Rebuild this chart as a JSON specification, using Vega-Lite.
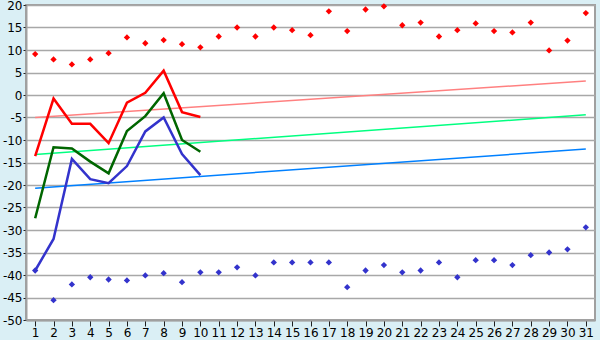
{
  "$schema": "https://vega.github.io/schema/vega-lite/v6.json",
  "width": 569,
  "height": 315,
  "autosize": {"type": "none"},
  "padding": {"left": 26, "top": 5, "right": 5, "bottom": 20},
  "background": "#DAEFF5",
  "config": {
    "view": {"fill": "white", "stroke": "#A0A0A0", "strokeWidth": 2},
    "axis": {"labelFont": "DejaVu Sans", "labelFontSize": 12, "labelColor": "black", "domainColor": "#A0A0A0", "domainWidth": 2, "tickColor": "#202020", "gridColor": "#A8A8A8", "gridWidth": 1.5, "title": null}
  },
  "datasets": {
    "lines": [
      {"day": 1, "s": "red", "v": -13.6}, {"day": 2, "s": "red", "v": -0.8}, {"day": 3, "s": "red", "v": -6.4}, {"day": 4, "s": "red", "v": -6.4}, {"day": 5, "s": "red", "v": -10.7}, {"day": 6, "s": "red", "v": -1.7}, {"day": 7, "s": "red", "v": 0.5}, {"day": 8, "s": "red", "v": 5.4}, {"day": 9, "s": "red", "v": -3.8}, {"day": 10, "s": "red", "v": -4.9},
      {"day": 1, "s": "green", "v": -27.4}, {"day": 2, "s": "green", "v": -11.6}, {"day": 3, "s": "green", "v": -11.9}, {"day": 4, "s": "green", "v": -14.8}, {"day": 5, "s": "green", "v": -17.4}, {"day": 6, "s": "green", "v": -8.0}, {"day": 7, "s": "green", "v": -4.7}, {"day": 8, "s": "green", "v": 0.4}, {"day": 9, "s": "green", "v": -10.0}, {"day": 10, "s": "green", "v": -12.6},
      {"day": 1, "s": "blue", "v": -39.0}, {"day": 2, "s": "blue", "v": -32.0}, {"day": 3, "s": "blue", "v": -14.2}, {"day": 4, "s": "blue", "v": -18.7}, {"day": 5, "s": "blue", "v": -19.6}, {"day": 6, "s": "blue", "v": -15.8}, {"day": 7, "s": "blue", "v": -8.1}, {"day": 8, "s": "blue", "v": -5.0}, {"day": 9, "s": "blue", "v": -13.1}, {"day": 10, "s": "blue", "v": -17.8}
    ],
    "trends": [
      {"day": 1, "s": "tred", "v": -5.0}, {"day": 31, "s": "tred", "v": 3.1},
      {"day": 1, "s": "tgreen", "v": -13.2}, {"day": 31, "s": "tgreen", "v": -4.4},
      {"day": 1, "s": "tblue", "v": -20.7}, {"day": 31, "s": "tblue", "v": -12.0}
    ],
    "points": [
      {"day": 1, "s": "max", "v": 9.1}, {"day": 2, "s": "max", "v": 7.9}, {"day": 3, "s": "max", "v": 6.8}, {"day": 4, "s": "max", "v": 7.9}, {"day": 5, "s": "max", "v": 9.3}, {"day": 6, "s": "max", "v": 12.8}, {"day": 7, "s": "max", "v": 11.5}, {"day": 8, "s": "max", "v": 12.2}, {"day": 9, "s": "max", "v": 11.3}, {"day": 10, "s": "max", "v": 10.6},
      {"day": 11, "s": "max", "v": 13.0}, {"day": 12, "s": "max", "v": 15.0}, {"day": 13, "s": "max", "v": 13.0}, {"day": 14, "s": "max", "v": 15.0}, {"day": 15, "s": "max", "v": 14.4}, {"day": 16, "s": "max", "v": 13.3}, {"day": 17, "s": "max", "v": 18.6}, {"day": 18, "s": "max", "v": 14.2}, {"day": 19, "s": "max", "v": 19.0}, {"day": 20, "s": "max", "v": 19.7},
      {"day": 21, "s": "max", "v": 15.5}, {"day": 22, "s": "max", "v": 16.1}, {"day": 23, "s": "max", "v": 13.0}, {"day": 24, "s": "max", "v": 14.4}, {"day": 25, "s": "max", "v": 15.9}, {"day": 26, "s": "max", "v": 14.2}, {"day": 27, "s": "max", "v": 13.9}, {"day": 28, "s": "max", "v": 16.1}, {"day": 29, "s": "max", "v": 9.9}, {"day": 30, "s": "max", "v": 12.1}, {"day": 31, "s": "max", "v": 18.2},
      {"day": 1, "s": "min", "v": -39.0}, {"day": 2, "s": "min", "v": -45.6}, {"day": 3, "s": "min", "v": -42.1}, {"day": 4, "s": "min", "v": -40.5}, {"day": 5, "s": "min", "v": -41.0}, {"day": 6, "s": "min", "v": -41.2}, {"day": 7, "s": "min", "v": -40.1}, {"day": 8, "s": "min", "v": -39.6}, {"day": 9, "s": "min", "v": -41.6}, {"day": 10, "s": "min", "v": -39.4},
      {"day": 11, "s": "min", "v": -39.4}, {"day": 12, "s": "min", "v": -38.3}, {"day": 13, "s": "min", "v": -40.1}, {"day": 14, "s": "min", "v": -37.2}, {"day": 15, "s": "min", "v": -37.2}, {"day": 16, "s": "min", "v": -37.2}, {"day": 17, "s": "min", "v": -37.2}, {"day": 18, "s": "min", "v": -42.7}, {"day": 19, "s": "min", "v": -39.0}, {"day": 20, "s": "min", "v": -37.8},
      {"day": 21, "s": "min", "v": -39.4}, {"day": 22, "s": "min", "v": -39.0}, {"day": 23, "s": "min", "v": -37.2}, {"day": 24, "s": "min", "v": -40.5}, {"day": 25, "s": "min", "v": -36.7}, {"day": 26, "s": "min", "v": -36.7}, {"day": 27, "s": "min", "v": -37.8}, {"day": 28, "s": "min", "v": -35.6}, {"day": 29, "s": "min", "v": -35.0}, {"day": 30, "s": "min", "v": -34.3}, {"day": 31, "s": "min", "v": -29.4}
    ]
  },
  "encoding": {
    "x": {"field": "day", "type": "quantitative", "scale": {"domain": [0.5, 31.5], "nice": false, "zero": false},
      "axis": {"values": [1,2,3,4,5,6,7,8,9,10,11,12,13,14,15,16,17,18,19,20,21,22,23,24,25,26,27,28,29,30,31], "grid": false, "tickSize": 6, "labelPadding": 1, "format": "d"}},
    "y": {"field": "v", "type": "quantitative", "scale": {"domain": [-50, 20], "nice": false, "zero": false},
      "axis": {"values": [-50,-45,-40,-35,-30,-25,-20,-15,-10,-5,0,5,10,15,20], "tickSize": 3, "labelPadding": 1, "domain": true, "labelExpr": "'' + datum.value"}}
  },
  "layer": [
    {"data": {"name": "trends"}, "mark": {"type": "line", "strokeWidth": 1.5},
      "encoding": {"detail": {"field": "s"}, "color": {"field": "s", "type": "nominal", "legend": null, "scale": {"domain": ["tred", "tgreen", "tblue", "red", "green", "blue", "max", "min"], "range": ["#FF8080", "#00FF80", "#0080FF", "#FF0000", "#006600", "#3333CC", "#FF0000", "#3333CC"]}}}},
    {"data": {"name": "lines"}, "mark": {"type": "line", "strokeWidth": 2.5},
      "encoding": {"detail": {"field": "s"}, "color": {"field": "s", "type": "nominal", "legend": null}}},
    {"data": {"name": "points"}, "mark": {"type": "point", "shape": "diamond", "filled": true, "size": 40, "opacity": 1},
      "encoding": {"color": {"field": "s", "type": "nominal", "legend": null}}}
  ]
}
